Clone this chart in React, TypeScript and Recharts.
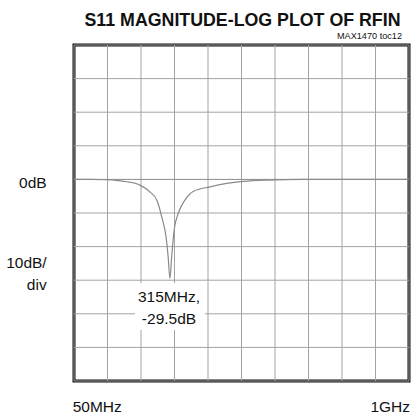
import React from "react";
import { LineChart, Line, XAxis, YAxis, ReferenceLine, ReferenceArea } from "recharts";

const freqMHz = [50, 100, 138, 170, 200, 237, 265, 285, 299, 311, 317, 322, 327, 334, 346, 365, 388, 436, 483, 530, 600, 700, 800, 900, 1000];
const s11dB = [0, 0, -0.1, -0.3, -0.7, -1.7, -3.7, -6.2, -11.2, -17.1, -23, -29.5, -23, -15.1, -10, -6.1, -3.6, -2.2, -1.2, -0.6, -0.2, 0, 0, 0, 0];
const xTicks = [50, 145, 240, 335, 430, 525, 620, 715, 810, 905, 1000];
const yTicks = [-60, -50, -40, -30, -20, -10, 0, 10, 20, 30, 40];

const data = freqMHz.map((f, i) => ({ f, db: s11dB[i] }));

const font = "'Liberation Sans', Arial, sans-serif";

export default function App() {
  return (
    <div style={{ position: "absolute", left: 0, top: 0, width: 412, height: 416, background: "#fff" }}>
      <LineChart width={412} height={416} data={data} margin={{ top: 45, right: 3, bottom: 35, left: 74 }}>
        <XAxis dataKey="f" type="number" domain={[50, 1000]} ticks={xTicks} tick={false} axisLine={false} tickLine={false} height={0} />
        <YAxis type="number" domain={[-60, 40]} ticks={yTicks} tick={false} axisLine={false} tickLine={false} width={0} />
        {xTicks.map((t) => (
          <ReferenceLine key={"x" + t} x={t} stroke="#a3a3a3" strokeWidth={1} />
        ))}
        {yTicks.map((t) => (
          <ReferenceLine key={"y" + t} y={t} stroke={t === 0 ? "#8c8c8c" : "#a3a3a3"} strokeWidth={1} />
        ))}
        <Line dataKey="db" type="monotone" stroke="#8a8a8a" strokeWidth={1.2} dot={false} isAnimationActive={false} />
        <ReferenceArea x1={50} x2={1000} y1={-60} y2={40} fill="none" stroke="#111" strokeWidth={3} ifOverflow="visible" />
      </LineChart>
      <svg width={412} height={416} style={{ position: "absolute", left: 0, top: 0, pointerEvents: "none" }} fontFamily={font}>
        <text x={242.5} y={26} textAnchor="middle" fontWeight="bold" fontSize={18.5} textLength={316} lengthAdjust="spacingAndGlyphs" fill="#111">S11 MAGNITUDE-LOG PLOT OF RFIN</text>
        <text x={402} y={38.5} textAnchor="end" fontSize={9.5} textLength={65} lengthAdjust="spacingAndGlyphs" fill="#111">MAX1470 toc12</text>
        <rect x={135} y={283} width={70} height={47} fill="#fff" />
        <text x={169} y={302} textAnchor="middle" fontSize={15.5} fill="#111">315MHz,</text>
        <text x={169} y={324} textAnchor="middle" fontSize={15.5} fill="#111">-29.5dB</text>
        <text x={46.7} y={188} textAnchor="end" fontSize={15.5} fill="#111">0dB</text>
        <text x={46.7} y={268.3} textAnchor="end" fontSize={15.5} fill="#111">10dB/</text>
        <text x={46.7} y={290} textAnchor="end" fontSize={15.5} fill="#111">div</text>
        <text x={72.7} y={411.5} textAnchor="start" fontSize={15.5} fill="#111">50MHz</text>
        <text x={410} y={411.5} textAnchor="end" fontSize={15.5} fill="#111">1GHz</text>
      </svg>
    </div>
  );
}
